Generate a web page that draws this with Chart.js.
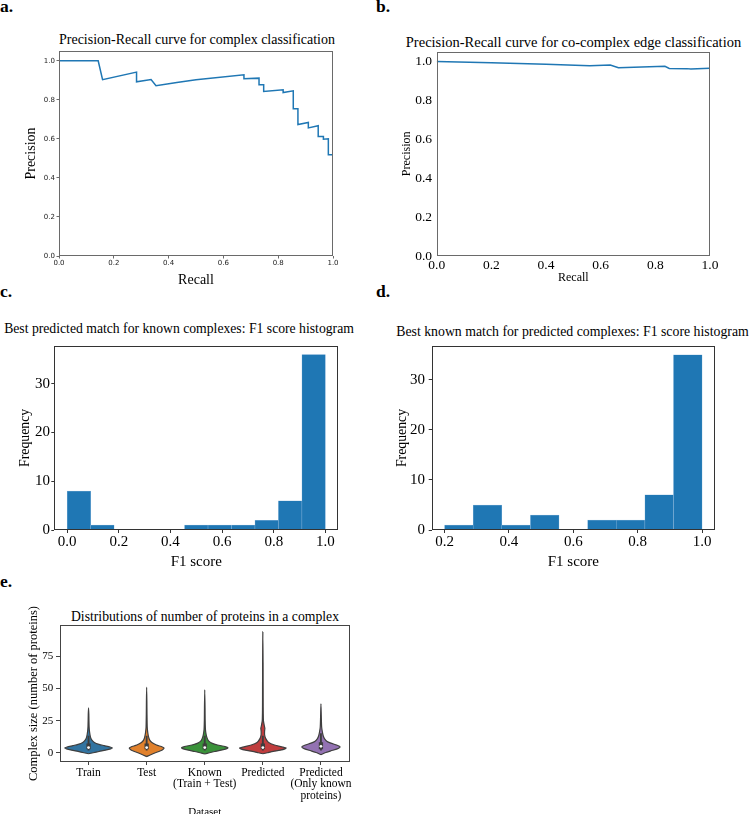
<!DOCTYPE html>
<html>
<head>
<meta charset="utf-8">
<script src="https://cdn.jsdelivr.net/npm/chart.js@4.4.1/dist/chart.umd.min.js"></script>
<style>
  html, body { margin: 0; padding: 0; background: #fff; }
  body { width: 750px; height: 814px; position: relative; overflow: hidden; }
  canvas { position: absolute; }
  .txt { position: absolute; white-space: nowrap; font-family: 'Liberation Serif', 'Times New Roman', serif; line-height: 1; color: #000; }
  .tag { font-weight: bold; font-size: 17.5px; }
  .ttl { width: 600px; text-align: center; }
</style>
</head>
<body>
<div class="txt tag" style="left:0px; top:-2px;">a.</div>
<div class="txt tag" style="left:376px; top:-2px;">b.</div>
<div class="txt tag" style="left:0px; top:283px;">c.</div>
<div class="txt tag" style="left:376px; top:283px;">d.</div>
<div class="txt tag" style="left:0px; top:573px;">e.</div>

<div class="txt ttl" style="left:-103px; top:32.6px; font-size:14px;">Precision-Recall curve for complex classification</div>
<div class="txt ttl" style="left:273.5px; top:34.6px; font-size:14.5px;">Precision-Recall curve for co-complex edge classification</div>
<div class="txt ttl" style="left:-121px; top:321.8px; font-size:13.7px;">Best predicted match for known complexes: F1 score histogram</div>
<div class="txt ttl" style="left:272.5px; top:324.5px; font-size:13.8px;">Best known match for predicted complexes: F1 score histogram</div>
<div class="txt ttl" style="left:-95px; top:609.5px; font-size:13.7px;">Distributions of number of proteins in a complex</div>

<canvas id="pa" width="375" height="295" style="left:0px; top:0px;"></canvas>
<canvas id="pb" width="375" height="295" style="left:375px; top:0px;"></canvas>
<canvas id="pc" width="375" height="285" style="left:0px; top:290px;"></canvas>
<canvas id="pd" width="375" height="285" style="left:375px; top:290px;"></canvas>
<canvas id="pe" width="375" height="270" style="left:0px; top:560px;"></canvas>

<script>
// a. precision-recall, complex classification
const aRecall    = [0, 0.143, 0.159, 0.283, 0.283, 0.336, 0.354, 0.43, 0.50, 0.675, 0.675, 0.730, 0.730, 0.747, 0.747, 0.818, 0.818, 0.855, 0.855, 0.872, 0.872, 0.910, 0.910, 0.946, 0.946, 0.965, 0.965, 0.983, 0.983, 1.0];
const aPrecision = [1.0, 1.0, 0.903, 0.942, 0.892, 0.904, 0.872, 0.889, 0.903, 0.928, 0.908, 0.911, 0.877, 0.877, 0.843, 0.851, 0.837, 0.846, 0.754, 0.754, 0.673, 0.684, 0.656, 0.667, 0.612, 0.612, 0.598, 0.600, 0.518, 0.518];

// b. precision-recall, co-complex edge classification
const bRecall    = [0, 0.2, 0.4, 0.56, 0.635, 0.665, 0.835, 0.851, 0.915, 0.93, 1.0];
const bPrecision = [1.0, 0.993, 0.985, 0.978, 0.982, 0.968, 0.975, 0.964, 0.963, 0.961, 0.965];

const prTicks = [0, 0.2, 0.4, 0.6, 0.8, 1.0];

// c. / d. F1 histograms
const cEdges  = [0, 0.0909, 0.1818, 0.2727, 0.3636, 0.4545, 0.5454, 0.6363, 0.7272, 0.8181, 0.9090, 1.0];
const cCounts = [8, 1, 0, 0, 0, 1, 1, 1, 2, 6, 36];
const dEdges  = [0.2, 0.2889, 0.3778, 0.4667, 0.5556, 0.6444, 0.7333, 0.8222, 0.9111, 1.0];
const dCounts = [1, 5, 1, 3, 0, 2, 2, 7, 35];
const cXTicks = [0, 0.2, 0.4, 0.6, 0.8, 1.0];
const dXTicks = [0.2, 0.4, 0.6, 0.8, 1.0];
const freqTicks = [0, 10, 20, 30];

// e. violins of complex size
const datasetLabels = [['Train'], ['Test'], ['Known', '(Train + Test)'], ['Predicted'], ['Predicted', '(Only known', 'proteins)']];
const violinColors = ['#3274a1', '#e1812c', '#3a923a', '#c03d3e', '#9372b2'];
const sizeTicks = [0, 25, 50, 75];

const trainSize = [-0.8, 0, 1, 2, 3, 3.7, 4.5, 5.5, 6.5, 8, 10, 12, 14, 17, 20, 25, 30, 35];
const trainWidth = [0, 0.08, 0.18, 0.29, 0.38, 0.41, 0.37, 0.27, 0.18, 0.10, 0.055, 0.035, 0.025, 0.015, 0.01, 0.007, 0.005, 0];
const testSize = [-3, -1.5, 0, 1.5, 2.5, 3.5, 4.5, 6, 8, 10, 13, 16, 20, 30, 40, 51];
const testWidth = [0, 0.07, 0.15, 0.24, 0.28, 0.30, 0.27, 0.17, 0.09, 0.05, 0.03, 0.018, 0.01, 0.006, 0.004, 0];
const knownSize = [-1, 0, 1, 2, 3, 3.8, 4.8, 6, 7.5, 9, 11, 14, 18, 25, 35, 49];
const knownWidth = [0, 0.08, 0.17, 0.28, 0.37, 0.40, 0.35, 0.22, 0.12, 0.07, 0.045, 0.025, 0.012, 0.007, 0.005, 0];
const predSize = [-0.8, 0, 1, 2, 3, 3.7, 4.5, 6, 8, 11, 14, 17, 19, 21, 25, 35, 50, 70, 94];
const predWidth = [0, 0.08, 0.18, 0.30, 0.38, 0.40, 0.34, 0.20, 0.10, 0.05, 0.03, 0.03, 0.035, 0.025, 0.01, 0.006, 0.005, 0.004, 0];
const predKnownSize = [-1.5, 0, 1.5, 3, 4.5, 6, 7.5, 9, 11, 13, 16, 20, 28, 38];
const predKnownWidth = [0, 0.07, 0.17, 0.28, 0.33, 0.27, 0.17, 0.10, 0.06, 0.04, 0.025, 0.012, 0.006, 0];

const boxQ1  = [3, 3, 3, 3, 3];
const boxMed = [4, 4, 4, 4, 5];
const boxQ3  = [7, 7, 7, 7, 8];
const whiskLo = [2, 2, 2, 2, 2];
const whiskHi = [13, 13, 13, 13, 15];

const serif = "'Liberation Serif', 'Times New Roman', serif";
Chart.defaults.color = '#000';
Chart.defaults.animation = false;

const framePlugin = {
  id: 'frame',
  afterDatasetsDraw(chart, args, opts) {
    const {ctx, chartArea: a} = chart;
    ctx.save();
    ctx.strokeStyle = opts.color || '#333';
    ctx.lineWidth = 1;
    const l = Math.round(a.left) + 0.5, t = Math.round(a.top) + 0.5;
    const r = Math.round(a.right) - 0.5, b = Math.round(a.bottom) - 0.5;
    ctx.strokeRect(l, t, r - l, b - t);
    ctx.restore();
  }
};

function axis(o) {
  return {
    type: 'linear',
    position: o.position,
    min: o.min,
    max: o.max,
    offset: false,
    afterBuildTicks: s => { s.ticks = o.ticks.map(v => ({value: v})); },
    afterFit: s => {
      if (o.width !== undefined) s.width = o.width;
      if (o.height !== undefined) s.height = o.height;
    },
    border: {display: false},
    grid: {
      display: o.tickLen > 0,
      drawOnChartArea: false,
      drawTicks: o.tickLen > 0,
      tickLength: o.tickLen || 0,
      tickColor: o.tickColor || '#333',
      color: o.tickColor || '#333',
      offset: false
    },
    ticks: {
      font: o.tickFont,
      color: o.tickFontColor || '#000',
      padding: o.pad,
      autoSkip: false,
      maxRotation: 0,
      minRotation: 0,
      callback: o.fmt
    },
    title: {display: true, text: o.title, font: o.titleFont, padding: o.titlePad}
  };
}

function baseOptions(pad, frameColor, scales) {
  return {
    responsive: false,
    animation: false,
    events: [],
    layout: {padding: pad},
    plugins: {legend: {display: false}, tooltip: {enabled: false}, frame: {color: frameColor}},
    scales: scales
  };
}

const fix1 = v => v.toFixed(1);
const plain = v => String(v);

// a.
new Chart(document.getElementById('pa'), {
  type: 'scatter',
  data: {datasets: [{
    data: aRecall.map((r, i) => ({x: r, y: aPrecision[i]})),
    showLine: true, pointRadius: 0, borderColor: '#1f77b4', borderWidth: 1.5, tension: 0
  }]},
  options: baseOptions({top: 51, right: 42, bottom: 0, left: 0}, '#6a6a6a', {
    x: axis({position: 'bottom', min: 0, max: 1, ticks: prTicks, height: 39, tickLen: 2.5, tickColor: '#6a6a6a', pad: 0,
      tickFont: {family: 'DejaVu Sans', size: 7}, tickFontColor: '#222', fmt: fix1,
      title: 'Recall', titleFont: {family: serif, size: 14}, titlePad: {top: 0, bottom: 6.6}}),
    y: axis({position: 'left', min: 0, max: 1.05, ticks: prTicks, width: 59, tickLen: 2.5, tickColor: '#6a6a6a', pad: 1.5,
      tickFont: {family: 'DejaVu Sans', size: 7}, tickFontColor: '#222', fmt: fix1,
      title: 'Precision', titleFont: {family: serif, size: 14}, titlePad: {top: 23.3, bottom: 0}})
  }),
  plugins: [framePlugin]
});

// b.
new Chart(document.getElementById('pb'), {
  type: 'scatter',
  data: {datasets: [{
    data: bRecall.map((r, i) => ({x: r, y: bPrecision[i]})),
    showLine: true, pointRadius: 0, borderColor: '#1f77b4', borderWidth: 1.5, tension: 0
  }]},
  options: baseOptions({top: 51.7, right: 40, bottom: 0, left: 0}, '#6a6a6a', {
    x: axis({position: 'bottom', min: 0, max: 1, ticks: prTicks, height: 39, tickLen: 0, pad: 1.6,
      tickFont: {family: serif, size: 13.5}, fmt: fix1,
      title: 'Recall', titleFont: {family: serif, size: 12}, titlePad: {top: 0, bottom: 9.5}}),
    y: axis({position: 'left', min: 0, max: 1.05, ticks: prTicks, width: 61.7, tickLen: 0, pad: 4.7,
      tickFont: {family: serif, size: 13.5}, fmt: fix1,
      title: 'Precision', titleFont: {family: serif, size: 12}, titlePad: {top: 24.8, bottom: 0}})
  }),
  plugins: [framePlugin]
});

function histChart(id, edges, counts, xMin, xMax, xTicks, yMax, geo) {
  return new Chart(document.getElementById(id), {
    type: 'bar',
    data: {datasets: [{
      data: counts.map((n, i) => ({x: (edges[i] + edges[i + 1]) / 2, y: n})),
      backgroundColor: '#1f77b4', borderColor: '#8ab7dc', borderWidth: 0.5,
      barPercentage: 1, categoryPercentage: 1, grouped: false
    }]},
    options: baseOptions({top: geo.top, right: geo.right, bottom: 0, left: 0}, '#333', {
      x: axis({position: 'bottom', min: xMin, max: xMax, ticks: xTicks, height: 45, tickLen: 3, pad: 0,
        tickFont: {family: serif, size: 15}, fmt: fix1,
        title: 'F1 score', titleFont: {family: serif, size: 15}, titlePad: {top: 0, bottom: 4}}),
      y: axis({position: 'left', min: 0, max: yMax, ticks: freqTicks, width: geo.left, tickLen: 3, pad: geo.yPad,
        tickFont: {family: serif, size: 15}, fmt: plain,
        title: 'Frequency', titleFont: {family: serif, size: 13.8}, titlePad: {top: geo.yTitle, bottom: 0}})
    }),
    plugins: [framePlugin]
  });
}

histChart('pc', cEdges, cCounts, -0.05, 1.05, cXTicks, 37.8, {top: 55.7, right: 36.7, left: 54.3, yPad: 1.3, yTitle: 16.7});
histChart('pd', dEdges, dCounts, 0.16, 1.04, dXTicks, 36.75, {top: 56, right: 35, left: 56.7, yPad: 3.7, yTitle: 18.7});

// e.
function violinPath(i, levels, widths) {
  const right = levels.map((v, k) => ({x: i + widths[k], y: v}));
  const left = levels.map((v, k) => ({x: i - widths[k], y: v})).reverse();
  return right.concat(left.slice(1));
}

const violinSeries = [
  [trainSize, trainWidth],
  [testSize, testWidth],
  [knownSize, knownWidth],
  [predSize, predWidth],
  [predKnownSize, predKnownWidth]
];

const eDatasets = [
  {type: 'scatter', order: 0, data: boxMed.map((m, i) => ({x: i, y: m})),
    pointRadius: 1.4, pointBackgroundColor: '#ffffff', pointBorderWidth: 0},
  {type: 'bar', order: 1, data: boxQ1.map((q, i) => ({x: i, y: [q, boxQ3[i]]})),
    backgroundColor: '#3d3d3d', barThickness: 3.6, grouped: false, borderWidth: 0},
  {type: 'bar', order: 2, data: whiskLo.map((w, i) => ({x: i, y: [w, whiskHi[i]]})),
    backgroundColor: '#3d3d3d', barThickness: 1.2, grouped: false, borderWidth: 0}
].concat(violinSeries.map(([lv, wd], i) => ({
  type: 'line', order: 3,
  data: violinPath(i, lv, wd),
  fill: 'shape', backgroundColor: violinColors[i],
  borderColor: '#3f3f3f', borderWidth: 1.2, pointRadius: 0, tension: 0.2
})));

new Chart(document.getElementById('pe'), {
  type: 'scatter',
  data: {datasets: eDatasets},
  options: baseOptions({top: 65, right: 25, bottom: 0, left: 0}, '#444', {
    x: axis({position: 'bottom', min: -0.5, max: 4.5, ticks: [0, 1, 2, 3, 4], height: 68, tickLen: 3, tickColor: '#444', pad: 2,
      tickFont: {family: serif, size: 11.5, lineHeight: 1}, fmt: (v, i) => datasetLabels[i],
      title: 'Dataset', titleFont: {family: serif, size: 11}, titlePad: {top: 0, bottom: 11.4}}),
    y: axis({position: 'left', min: -7.2, max: 99.4, ticks: sizeTicks, width: 59.5, tickLen: 3.5, tickColor: '#444', pad: 2.7,
      tickFont: {family: serif, size: 11}, fmt: plain,
      title: 'Complex size (number of proteins)', titleFont: {family: serif, size: 12.5}, titlePad: {top: 26.5, bottom: 0}})
  }),
  plugins: [framePlugin]
});
</script>
</body>
</html>
